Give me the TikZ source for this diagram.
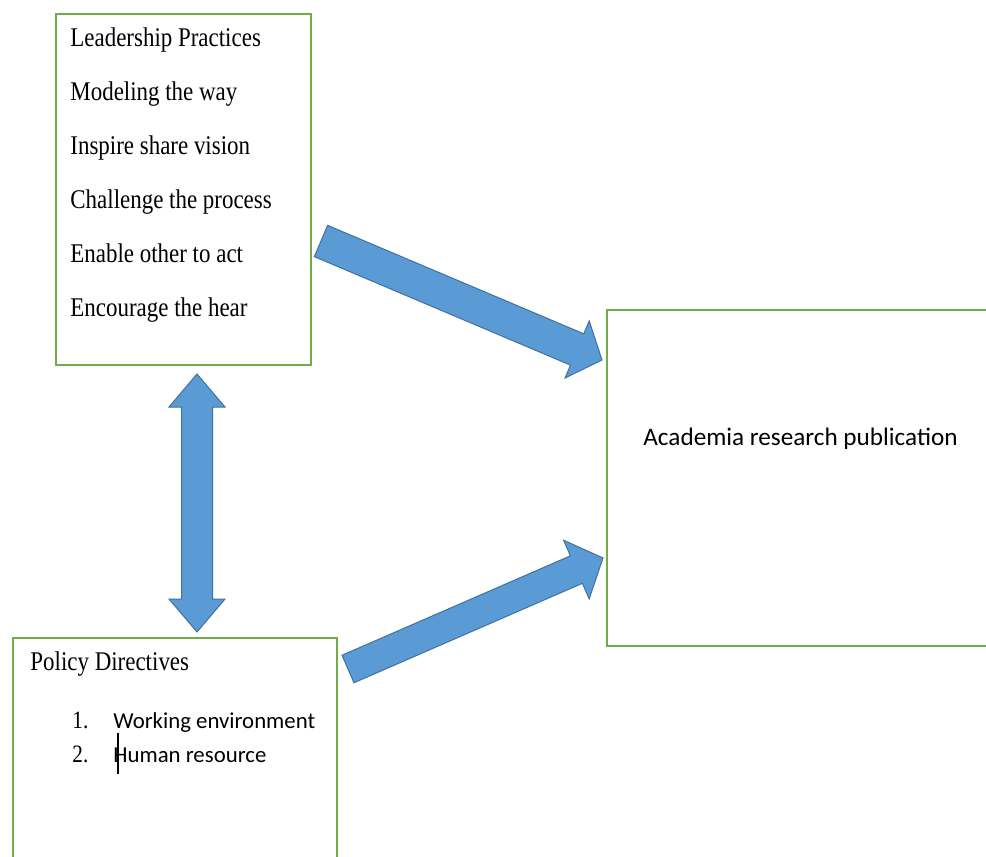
\documentclass[tikz,border=0pt]{standalone}
\usepackage{fontspec}
\usepackage{tikz}
\usetikzlibrary{calc}
\newfontfamily\bookfont[FakeStretch=0.85]{Liberation Serif}
\newfontfamily\bodyfont{Carlito}

\definecolor{boxgreen}{HTML}{70AD47}
\definecolor{arrowblue}{HTML}{5B9BD5}
\definecolor{arrowline}{HTML}{41719C}

% fat block arrow: tail, tip, half shaft, half head, head length
\newcommand{\fatarrow}[5]{%
  \coordinate (#2-base) at ($(#2)!#5!(#1)$);
  \draw[arrowbody] ($(#1)!#3!90:(#2)$) -- ($(#2-base)!#3!90:(#2)$)
    -- ($(#2-base)!#4!90:(#2)$) -- (#2) -- ($(#2-base)!#4!-90:(#2)$)
    -- ($(#2-base)!#3!-90:(#2)$) -- ($(#1)!#3!-90:(#2)$) -- cycle;}

\tikzset{
  box/.style={draw=boxgreen, line width=1pt, rectangle, anchor=north west, inner sep=0pt},
  item/.style={anchor=base west, inner sep=0pt, font=\bookfont\fontsize{13.5}{16}\selectfont},
  numitem/.style={anchor=base west, inner sep=0pt, font=\bookfont\fontsize{12.5}{15}\selectfont},
  listitem/.style={anchor=base west, inner sep=0pt, font=\bodyfont\fontsize{11.4}{14}\selectfont},
  arrowbody/.style={fill=arrowblue, draw=arrowline, line width=0.5pt, line join=miter},
}

\begin{document}
\begin{tikzpicture}[x=0.5pt, y=-0.5pt]

    \clip (0,0) rectangle (986,857);
    \fill[white] (0,0) rectangle (986,857);

    % the three boxes
    \node[box, minimum width=127.5pt, minimum height=175.5pt] (lead)   at (55,13)   {};
    \node[box, minimum width=162pt,   minimum height=130pt]   (policy) at (12,637)  {};
    \node[box, minimum width=200pt,   minimum height=168pt]   (acad)   at (606,309) {};

    \node[item] (l0) at (70,46)  {Leadership Practices};
    \node[item] (l1) at (70,100) {Modeling the way};
    \node[item] (l2) at (70,154) {Inspire share vision};
    \node[item] (l3) at (70,208) {Challenge the process};
    \node[item] (l4) at (70,262) {Enable other to act};
    \node[item] (l5) at (70,316) {Encourage the hear};

    \node[item] (p0) at (30,670) {Policy Directives};
    \node[numitem] (n1) at (72,728)  {1.};
    \node[listitem] (p1) at (113,728) {Working environment};
    \node[numitem] (n2) at (72,762)  {2.};
    \node[listitem] (p2) at (113,762) {Human resource};
    \draw[line width=0.6pt] (118,733) -- (118,774);

    \node[anchor=base west, inner sep=0pt, font=\bodyfont\fontsize{12.6}{15}\selectfont]
        (a0) at (643,445) {Academia research publication};

    % arrow ends
    \coordinate (leadtail)   at (321,241);
    \coordinate (leadtip)    at (602,360);
    \coordinate (policytail) at (348,669);
    \coordinate (policytip)  at (603,558);
    \coordinate (uptip)      at (197,374);
    \coordinate (downtip)    at (197,632);

    \fatarrow{leadtail}{leadtip}{8.5pt}{15.5pt}{13.5pt}
    \fatarrow{policytail}{policytip}{7.5pt}{16pt}{14.5pt}

    % two-headed arrow between the boxes
    \coordinate (uptip-base)   at ($(uptip)!16.5pt!(downtip)$);
    \coordinate (downtip-base) at ($(downtip)!16.5pt!(uptip)$);
    \draw[arrowbody] (uptip) -- ($(uptip-base)!14pt!90:(downtip)$)
      -- ($(uptip-base)!7.75pt!90:(downtip)$) -- ($(downtip-base)!7.75pt!-90:(uptip)$)
      -- ($(downtip-base)!14pt!-90:(uptip)$) -- (downtip)
      -- ($(downtip-base)!14pt!90:(uptip)$) -- ($(downtip-base)!7.75pt!90:(uptip)$)
      -- ($(uptip-base)!7.75pt!-90:(downtip)$) -- ($(uptip-base)!14pt!-90:(downtip)$) -- cycle;
  \end{tikzpicture}
\end{document}
